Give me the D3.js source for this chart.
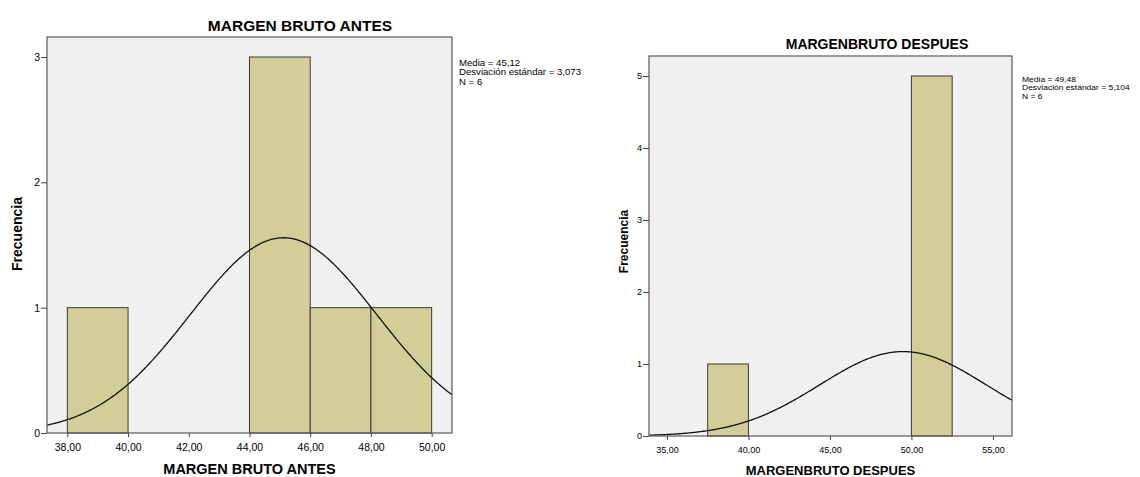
<!DOCTYPE html>
<html>
<head>
<meta charset="utf-8">
<script src="https://cdn.jsdelivr.net/npm/d3@7"></script>
<style>
  body { margin: 0; background: #fff; }
  svg text { font-family: "Liberation Sans", Arial, sans-serif; fill: #000; }
</style>
</head>
<body>
<div id="chart"></div>
<script>
// data
const antesEdges = [38, 40, 42, 44, 46, 48, 50];
const antesCounts = [1, 0, 0, 3, 1, 1];
const antesTicks = [38, 40, 42, 44, 46, 48, 50];
const antesStats = { mean: 45.12, sd: 3.073, n: 6 };

const despuesEdges = [37.5, 40, 42.5, 45, 47.5, 50, 52.5];
const despuesCounts = [1, 0, 0, 0, 0, 5];
const despuesTicks = [35, 40, 45, 50, 55];
const despuesStats = { mean: 49.48, sd: 5.104, n: 6 };

let svg = d3.select("#chart").append("svg")
    .attr("width", 1140)
    .attr("height", 477);

const fmt = v => d3.format(".2f")(v).replace(".", ",");

function drawHist(opt) {
    let x = d3.scaleLinear().domain(opt.xDomain).range([opt.left, opt.right]);
    let y = d3.scaleLinear().domain(opt.yDomain).range([opt.bottom, opt.yTopVal]);

    let g = svg.append("g");

    // plot background
    g.append("rect")
        .attr("x", opt.left).attr("y", opt.top)
        .attr("width", opt.right - opt.left)
        .attr("height", opt.bottom - opt.top)
        .attr("fill", "#f0f0f0");

    let clipId = "clip" + opt.id;
    svg.append("clipPath").attr("id", clipId).append("rect")
        .attr("x", opt.left).attr("y", opt.top)
        .attr("width", opt.right - opt.left)
        .attr("height", opt.bottom - opt.top);

    // bars
    let bins = opt.counts.map((c, i) => ({ x0: opt.edges[i], x1: opt.edges[i + 1], c: c }))
        .filter(d => d.c > 0);
    g.selectAll(".bar").data(bins).enter().append("rect")
        .attr("x", d => x(d.x0))
        .attr("y", d => y(d.c))
        .attr("width", d => x(d.x1) - x(d.x0))
        .attr("height", d => y(0) - y(d.c))
        .attr("fill", "#d3ce97")
        .attr("stroke", "#3a3a3a")
        .attr("stroke-width", 1);

    // normal curve
    let bw = opt.edges[1] - opt.edges[0];
    let s = opt.stats;
    let pts = d3.range(0, 301).map(i => {
        let v = opt.xDomain[0] + (opt.xDomain[1] - opt.xDomain[0]) * i / 300;
        let dens = Math.exp(-0.5 * Math.pow((v - s.mean) / s.sd, 2)) / (s.sd * Math.sqrt(2 * Math.PI));
        return [v, dens * s.n * bw];
    });
    g.append("path")
        .attr("clip-path", `url(#${clipId})`)
        .attr("d", d3.line().x(d => x(d[0])).y(d => y(d[1]))(pts))
        .attr("fill", "none")
        .attr("stroke", "#111")
        .attr("stroke-width", 1.3);

    // frame
    g.append("rect")
        .attr("x", opt.left).attr("y", opt.top)
        .attr("width", opt.right - opt.left)
        .attr("height", opt.bottom - opt.top)
        .attr("fill", "none")
        .attr("stroke", "#5a5a5a")
        .attr("stroke-width", 1.2);

    // axes
    let xAxis = g.append("g")
        .attr("transform", `translate(0,${opt.bottom})`)
        .call(d3.axisBottom(x).tickValues(opt.ticks).tickSize(4).tickFormat(fmt));
    xAxis.select(".domain").remove();
    xAxis.selectAll("line").attr("stroke", "#444");
    xAxis.selectAll("text")
        .attr("font-size", opt.tickFont)
        .attr("y", opt.tickTextY).attr("dy", null);

    let yAxis = g.append("g")
        .attr("transform", `translate(${opt.left},0)`)
        .call(d3.axisLeft(y).tickValues(d3.range(0, opt.yMaxTick + 1)).tickSize(6).tickPadding(1).tickFormat(d3.format("d")));
    yAxis.select(".domain").remove();
    yAxis.selectAll("line").attr("stroke", "#444");
    yAxis.selectAll("text").attr("font-size", opt.tickFont);

    // titles
    g.append("text")
        .attr("x", opt.titleX).attr("y", opt.titleY)
        .attr("text-anchor", "middle")
        .attr("font-size", opt.titleFont).attr("font-weight", "bold")
        .text(opt.title);

    g.append("text")
        .attr("x", (opt.left + opt.right) / 2).attr("y", opt.xLabelY)
        .attr("text-anchor", "middle")
        .attr("font-size", opt.xLabelFont).attr("font-weight", "bold")
        .text(opt.title);

    g.append("text")
        .attr("transform", `translate(${opt.yLabelX},${opt.yLabelY}) rotate(-90)`)
        .attr("text-anchor", "middle")
        .attr("font-size", opt.yLabelFont).attr("font-weight", "bold")
        .text("Frecuencia");

    // stats legend
    let lines = [
        "Media = " + String(s.mean).replace(".", ","),
        "Desviación estándar = " + d3.format(".3f")(s.sd).replace(".", ","),
        "N = " + s.n
    ];
    g.append("g")
        .attr("transform", `translate(${opt.legendX},${opt.legendY}) scale(${opt.legendStretch},1)`)
        .selectAll("text").data(lines).enter().append("text")
        .attr("x", 0)
        .attr("y", (d, i) => i * opt.legendStep)
        .attr("font-size", opt.legendFont)
        .text(d => d);
}

drawHist({
    id: "a", title: "MARGEN BRUTO ANTES",
    edges: antesEdges, counts: antesCounts, ticks: antesTicks, stats: antesStats,
    xDomain: [37.33, 50.67], yDomain: [0, 3], yMaxTick: 3,
    left: 47, right: 452, top: 37, bottom: 433, yTopVal: 57,
    tickFont: 10.5, tickTextY: 18, titleFont: 15.5, xLabelFont: 14.5, yLabelFont: 14,
    titleX: 300, titleY: 30.5, xLabelY: 474, yLabelX: 22, yLabelY: 234,
    legendX: 459, legendY: 65.5, legendStep: 9.6, legendFont: 8.3, legendStretch: 1.16
});

drawHist({
    id: "d", title: "MARGENBRUTO DESPUES",
    edges: despuesEdges, counts: despuesCounts, ticks: despuesTicks, stats: despuesStats,
    xDomain: [33.9, 56.17], yDomain: [0, 5], yMaxTick: 5,
    left: 649, right: 1012, top: 56, bottom: 436, yTopVal: 76,
    tickFont: 9, tickTextY: 17, titleFont: 14, xLabelFont: 13, yLabelFont: 12,
    titleX: 877, titleY: 49, xLabelY: 475, yLabelX: 627.5, yLabelY: 241.5,
    legendX: 1022, legendY: 81.5, legendStep: 9, legendFont: 7.8, legendStretch: 1.09
});
</script>
</body>
</html>
